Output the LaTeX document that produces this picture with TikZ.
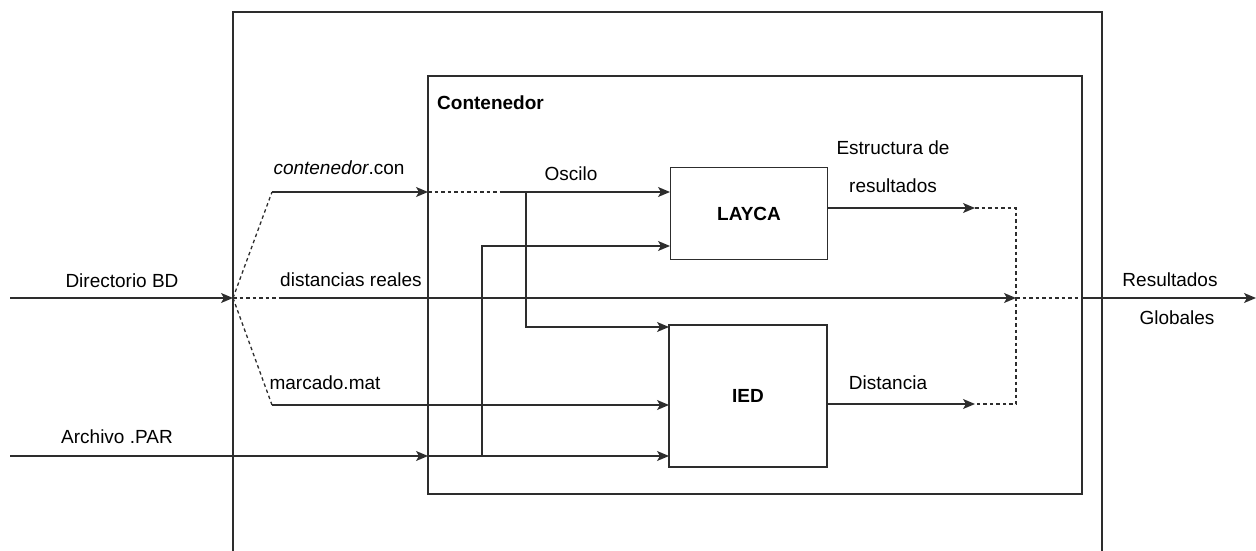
\documentclass[tikz,border=0pt]{standalone}
\usepackage{fontspec}
\setmainfont{Liberation Sans}
\usetikzlibrary{arrows.meta, positioning, calc}
\definecolor{linegray}{RGB}{45,45,45}

\tikzset{
    wire/.style={draw=linegray, line width=1.3pt},
    flow/.style={wire, -{Stealth[length=12pt, width=10pt, inset=3pt]}},
    dotwire/.style={wire, dash pattern=on 3.5pt off 3pt},
    block/.style={draw=linegray, line width=1.4pt, font=\fontsize{19}{22}\selectfont\bfseries},
    lbl/.style={font=\fontsize{19}{22}\selectfont, inner sep=0pt}
}

\begin{document}
\begin{tikzpicture}[x=1pt, y=-1pt]
    \useasboundingbox (0,0) rectangle (1256,551);

    % Outer frame (open at the bottom)
    \draw[wire] (233,551) -- (233,12) -- (1102,12) -- (1102,551);

    % Container
    \node[block, minimum width=654pt, minimum height=418pt] (cont) at (755,285) {};
    \node[lbl, anchor=west, font=\fontsize{19}{22}\selectfont\bfseries] (conttitle) at (437,103) {Contenedor};

    % Blocks
    \node[block, minimum width=157pt, minimum height=92pt] (layca) at (749,213.5) {LAYCA};
    \node[block, minimum width=158pt, minimum height=142pt] (ied) at (748,396) {IED};

    % Junction points
    \coordinate (dirIn) at (10,298);
    \coordinate (split) at (233,298);
    \coordinate (conA) at (272,192);
    \coordinate (conB) at (428,192);
    \coordinate (conC) at (500,192);
    \coordinate (oscBr) at (526,192);
    \coordinate (distA) at (282,298);
    \coordinate (merge) at (1016,298);
    \coordinate (marA) at (272,405);
    \coordinate (parIn) at (10,456);
    \coordinate (parB) at (428,456);
    \coordinate (parBr) at (482,456);
    \coordinate (layIn1) at (670,192);
    \coordinate (layIn2) at (670,246);
    \coordinate (iedIn1) at (669,327);
    \coordinate (iedIn2) at (669,405);
    \coordinate (iedIn3) at (669,456);
    \coordinate (layOut) at (828,208);
    \coordinate (iedOut) at (828,404);
    \coordinate (estEnd) at (975,208);
    \coordinate (disEnd) at (975,404);
    \coordinate (mTop) at (1016,208);
    \coordinate (mBot) at (1016,404);
    \coordinate (outJ) at (1082,298);
    \coordinate (outEnd) at (1256,298);

    % Inputs
    \draw[flow] (dirIn) -- (split);
    \draw[flow] (parIn) -- (parB);
    \draw[dotwire] (split) -- (conA);
    \draw[dotwire] (split) -- (distA);
    \draw[dotwire] (split) -- (marA);
    \draw[flow] (conA) -- (conB);
    \draw[dotwire] (conB) -- (conC);
    \draw[flow] (conC) -- (layIn1);
    \draw[flow] (oscBr) |- (iedIn1);
    \draw[flow] (distA) -- (merge);
    \draw[flow] (marA) -- (iedIn2);
    \draw[flow] (parB) -- (iedIn3);
    \draw[flow] (parBr) |- (layIn2);

    % Outputs
    \draw[flow] (layOut) -- (estEnd);
    \draw[flow] (iedOut) -- (disEnd);
    \draw[dotwire] (estEnd) -- (mTop) -- (mBot) -- (disEnd);
    \draw[dotwire] (merge) -- (outJ);
    \draw[flow] (outJ) -- (outEnd);

    % Labels
    \node[lbl] (ldir) at (122,281) {Directorio BD};
    \node[lbl] (lpar) at (117,437) {Archivo .PAR};
    \node[lbl] (lcon) at (339,168) {\textit{contenedor}.con};
    \node[lbl] (ldist) at (351,280) {distancias reales};
    \node[lbl] (lmar) at (325,383) {marcado.mat};
    \node[lbl] (losc) at (571,174) {Oscilo};
    \node[lbl] (lest1) at (893,148) {Estructura de};
    \node[lbl] (lest2) at (893,186) {resultados};
    \node[lbl] (ldis) at (888,383) {Distancia};
    \node[lbl] (lres1) at (1170,280) {Resultados};
    \node[lbl] (lres2) at (1177,318) {Globales};
\end{tikzpicture}
\end{document}
